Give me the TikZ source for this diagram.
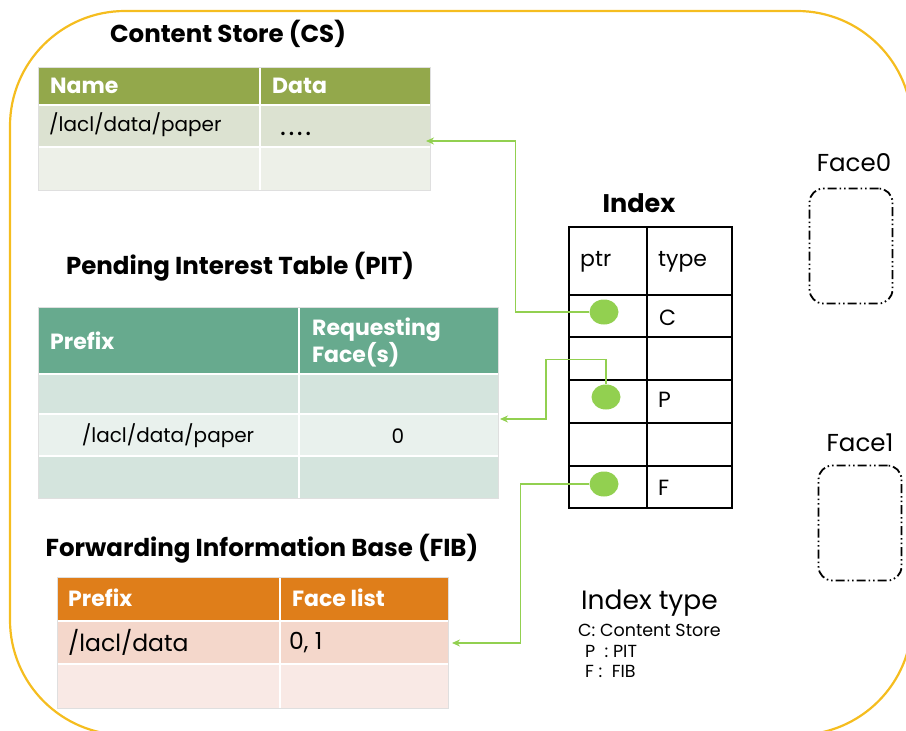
\documentclass[tikz,border=0pt]{standalone}
\usepackage{fontspec}
\setmainfont{Poppins}
\usepackage{xcolor}
\usetikzlibrary{positioning,arrows.meta,shapes.geometric}

\definecolor{frameyellow}{HTML}{F5BD1F}
\definecolor{csHead}{HTML}{93A84B}
\definecolor{csRowA}{HTML}{DCE2D1}
\definecolor{csRowB}{HTML}{EDF0E8}
\definecolor{pitHead}{HTML}{67AA8E}
\definecolor{pitRowA}{HTML}{D4E4DD}
\definecolor{pitRowB}{HTML}{E9F1ED}
\definecolor{fibHead}{HTML}{DF7E1A}
\definecolor{fibRowA}{HTML}{F4D7CB}
\definecolor{fibRowB}{HTML}{F9E9E5}
\definecolor{ptrgreen}{HTML}{92D050}

\begin{document}
\begin{tikzpicture}[x=1pt,y=-1pt,
    title/.style={font=\fontsize{24.5}{28}\selectfont\bfseries,inner sep=0pt},
    head/.style={font=\fontsize{22}{27}\selectfont\bfseries,text=white,anchor=west,inner sep=0pt,align=left},
    txt/.style={font=\fontsize{20}{24}\selectfont,anchor=west,inner sep=0pt},
    idx/.style={txt,font=\fontsize{22}{26}\selectfont},
    legend/.style={txt,font=\fontsize{17.5}{20}\selectfont},
    sep/.style={white,line width=2},
    link/.style={-{Stealth[length=8pt,width=7pt]},draw=ptrgreen,line width=1.5},
    dot/.style={ellipse,fill=ptrgreen,minimum width=29,minimum height=25,inner sep=0pt},
    facebox/.style={draw,line width=1.8,rounded corners=14,dash pattern=on 9pt off 3pt on 1.5pt off 3pt on 1.5pt off 3pt,minimum width=83,minimum height=115}]
\useasboundingbox (0,0) rectangle (906,731);

% Outer frame
\draw[frameyellow,line width=2.2,rounded corners=115] (10,11) rectangle (912,735);

% Content Store table
\node[title] (csTitle) at (228,34) {Content Store (CS)};
\fill[csHead] (38,67) rectangle (430,105);
\fill[csRowA] (38,105) rectangle (430,147);
\fill[csRowB] (38,147) rectangle (430,190);
\foreach \y in {105,147}
    \draw[sep] (38,\y) -- (430,\y);
\draw[sep] (260,67) -- (260,190);
\draw[gray!25] (38,67) rectangle (430,190);
\node[head] (csName) at (50,86) {Name};
\node[head] (csData) at (272,86) {Data};
\node[txt] (csKey) at (49,125) {/lacl/data/paper};
\node[txt,font=\fontsize{28}{30}\selectfont] (csVal) at (280,134) {.\kern2.5pt.\kern2.5pt.\kern2.5pt.};
\coordinate (csIn) at (426,141);

% Pending Interest Table
\node[title] (pitTitle) at (240,267) {Pending Interest Table (PIT)};
\fill[pitHead] (38,307) rectangle (498,374);
\fill[pitRowA] (38,374) rectangle (498,414);
\fill[pitRowB] (38,414) rectangle (498,456);
\fill[pitRowA] (38,456) rectangle (498,498);
\foreach \y in {374,414,456}
    \draw[sep] (38,\y) -- (498,\y);
\draw[sep] (299,307) -- (299,498);
\draw[gray!25] (38,307) rectangle (498,498);
\node[head] (pitPrefix) at (50,341) {Prefix};
\node[head] (pitFace) at (312,342) {Requesting\\Face(s)};
\node[txt,anchor=center] (pitKey) at (168,436) {/lacl/data/paper};
\node[txt,anchor=center] (pitVal) at (398,436) {0};
\coordinate (pitIn) at (500,419);

% Forwarding Information Base
\node[title] (fibTitle) at (262,549) {Forwarding Information Base (FIB)};
\fill[fibHead] (57,577) rectangle (448,621);
\fill[fibRowA] (57,621) rectangle (448,664);
\fill[fibRowB] (57,664) rectangle (448,708);
\foreach \y in {621,664}
    \draw[sep] (57,\y) -- (448,\y);
\draw[sep] (280,577) -- (280,708);
\draw[gray!25] (57,577) rectangle (448,708);
\node[head] (fibPrefix) at (68,598) {Prefix};
\node[head] (fibFace) at (292,598) {Face list};
\node[txt,font=\fontsize{23.5}{28}\selectfont] (fibKey) at (68,642) {/lacl/data};
\node[txt,font=\fontsize{23.5}{28}\selectfont] (fibVal) at (289,643) {0, 1};
\coordinate (fibIn) at (452,643);

% Index table
\node[title,font=\fontsize{25.5}{30}\selectfont\bfseries] (idxTitle) at (639,203) {Index};
\draw[line width=1.5] (569,227) rectangle (732,508);
\draw[line width=1.5] (647,227) -- (647,508);
\foreach \y in {295,337,380,423,466}
    \draw[line width=1.5] (569,\y) -- (732,\y);
\node[idx] (idxPtr) at (580,262) {ptr};
\node[idx] (idxType) at (658,262) {type};
\node[idx] (typeC) at (659,318) {C};
\node[idx] (typeP) at (658,400) {P};
\node[idx] (typeF) at (658,488) {F};

% Pointers
\node[dot] (ptrC) at (604,312) {};
\node[dot] (ptrP) at (606,397) {};
\node[dot] (ptrF) at (604,484) {};
\draw[link] (ptrC.west) -- ++(-74,0) |- (csIn);
\draw[link] (ptrP.north) -- ++(0,-25) -| (546,419) -- (pitIn);
\draw[link] (ptrF.west) -- ++(-69,0) |- (fibIn);

% Legend
\node[txt,font=\fontsize{26.5}{30}\selectfont] (legTitle) at (581,603) {Index type};
\node[legend] (legC) at (578,630) {C: Content Store};
\node[legend] (legP) at (585,651) {P\ \ : PIT};
\node[legend] (legF) at (585,671) {F :\ \ FIB};

% Faces
\node[facebox] (face0) at (851,246) {};
\node[facebox] (face1) at (860,523) {};
\node[font=\fontsize{24.5}{28}\selectfont,inner sep=0pt] (face0Lbl) at (854,163) {Face0};
\node[font=\fontsize{24.5}{28}\selectfont,inner sep=0pt] (face1Lbl) at (860,443) {Face1};
\end{tikzpicture}
\end{document}
